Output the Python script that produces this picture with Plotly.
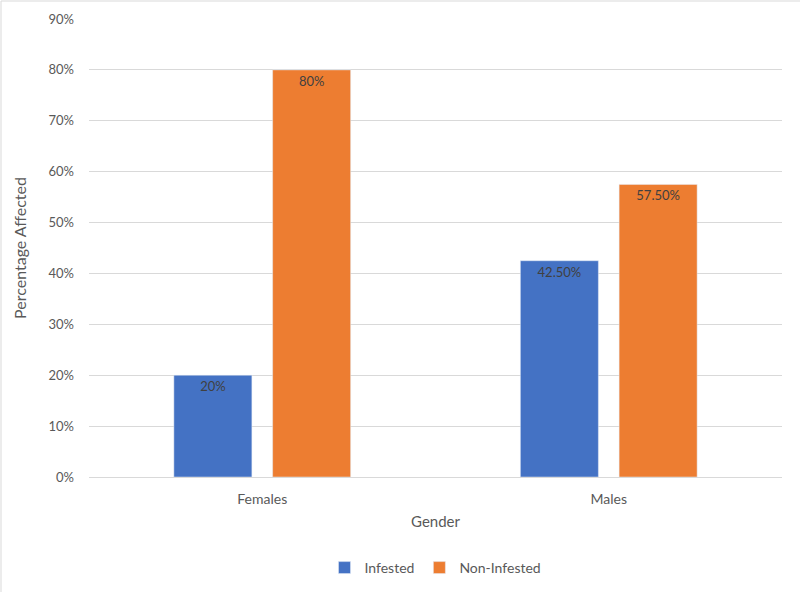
import plotly.graph_objects as go

categories = ["Females", "Males"]
infested = [0.20, 0.425]
non_infested = [0.80, 0.575]
infested_labels = ["20%", "42.50%"]
non_infested_labels = ["80%", "57.50%"]
y_ticks = [0, 0.1, 0.2, 0.3, 0.4, 0.5, 0.6, 0.7, 0.8, 0.9]

W, H = 800, 592
ml, mr, mt, mb = 89, 18, 19, 115
pw, ph = W - ml - mr, H - mt - mb

font = "Lato, 'Open Sans', sans-serif"
txt_font = dict(family=font, size=13, color="#404040")

fig = go.Figure()
fig.add_trace(go.Bar(
    name="Infested", x=categories, y=infested, text=infested_labels,
    textposition="inside", insidetextanchor="end", textfont=txt_font,
    marker_color="#4472C4", textangle=0,
))
fig.add_trace(go.Bar(
    name="Non-Infested", x=categories, y=non_infested, text=non_infested_labels,
    textposition="inside", insidetextanchor="end", textfont=txt_font,
    marker_color="#ED7D31", textangle=0,
))

fig.update_layout(
    width=W, height=H,
    margin=dict(l=ml, r=mr, t=mt, b=mb, autoexpand=False),
    paper_bgcolor="white", plot_bgcolor="white",
    barmode="group", bargap=0.43, bargroupgap=0.21,
    font=dict(family=font, size=13, color="#595959"),
    showlegend=True,
    legend=dict(orientation="h", x=0.5, xanchor="center",
                yref="container", y=24 / H, yanchor="middle",
                itemwidth=30, font=dict(size=14, color="#595959")),
    xaxis=dict(
        title=dict(text="Gender", font=dict(size=15, color="#595959"), standoff=10),
        showgrid=False, showline=True, linecolor="#D9D9D9", linewidth=1,
        ticks="", tickfont=dict(size=14, color="#595959"), ticklabelstandoff=9,
    ),
    yaxis=dict(
        title=dict(text="Percentage Affected", font=dict(size=16, color="#595959"), standoff=17),
        range=[0, 0.9], tickvals=y_ticks, tickformat=".0%",
        showgrid=True, gridcolor="#D9D9D9", gridwidth=1,
        zeroline=False, showline=False, ticks="",
        tickfont=dict(size=13, color="#595959"), ticklabelstandoff=14,
    ),
    shapes=[
        dict(type="line", xref="paper", yref="paper",
             x0=-(ml - 1) / pw, x1=1 + mr / pw, y0=1 + (mt - 1) / ph, y1=1 + (mt - 1) / ph,
             line=dict(color="#D9D9D9", width=1), layer="below"),
        dict(type="line", xref="paper", yref="paper",
             x0=-(ml - 1) / pw, x1=-(ml - 1) / pw, y0=-mb / ph, y1=1 + (mt - 1) / ph,
             line=dict(color="#D9D9D9", width=1), layer="below"),
    ],
)

page_css = (
    "document.documentElement.style.margin='0';"
    "document.documentElement.style.overflow='hidden';"
    "document.body.style.margin='0';"
    "document.body.style.padding='0';"
    "document.body.style.overflow='hidden';"
)
fig.write_html("out.html", config={"displayModeBar": False}, post_script=page_css)
